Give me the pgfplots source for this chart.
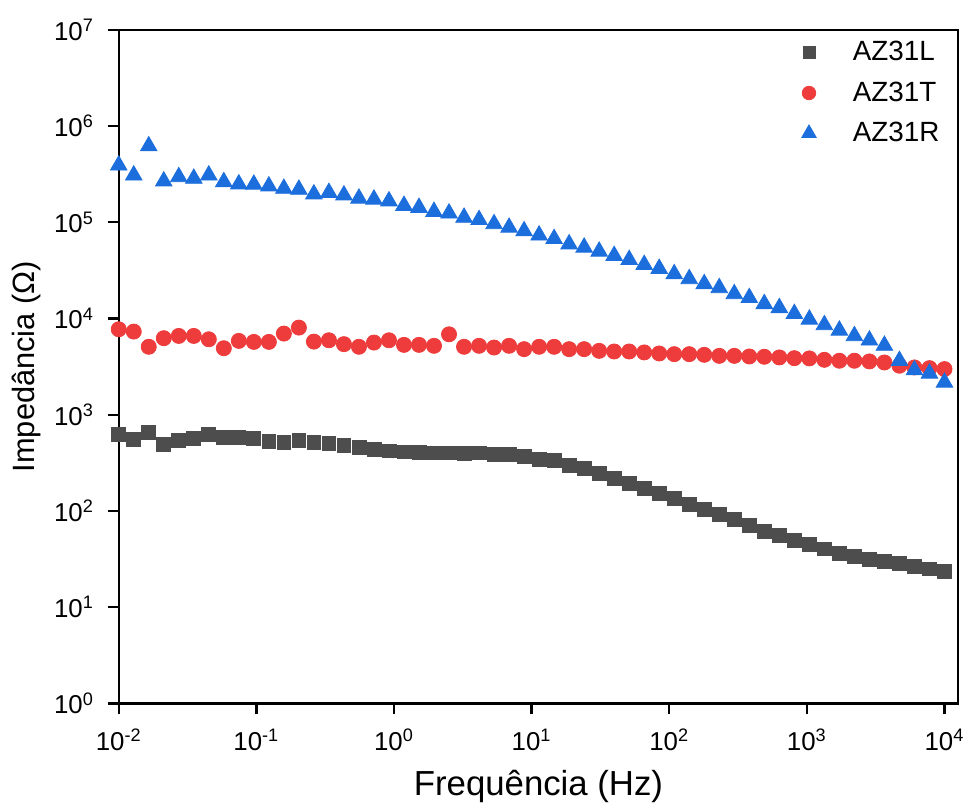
\documentclass[border=0pt]{standalone}
\usepackage{fontspec}
\setmainfont{Liberation Sans}
\usepackage{pgfplots}
\usepackage{pgfplotstable}
\pgfplotsset{compat=1.18}

\definecolor{cL}{RGB}{77,77,77}
\definecolor{cT}{RGB}{238,60,60}
\definecolor{cR}{RGB}{28,110,220}

% frequency (Hz), |Z| (Ohm) for the three samples
\pgfplotstableread{
f L T R
0.010000 619 7730 391000
0.012856 551 7310 308000
0.016527 661 5080 619000
0.021246 493 6240 267000
0.027313 542 6590 296000
0.035112 564 6590 285000
0.045139 625 6080 308000
0.058029 587 4910 263000
0.074600 577 5850 249000
0.095903 564 5710 247000
0.12329 533 5710 237000
0.15849 521 6970 224000
0.20375 542 8040 219000
0.26193 521 5750 196000
0.33673 500 5940 203000
0.43288 482 5410 191000
0.55650 455 5080 177000
0.71541 434 5620 173000
0.91969 421 5940 166000
1.1823 411 5320 149000
1.5199 404 5320 142000
1.9539 401 5200 129000
2.5119 401 6850 124000
3.2291 394 5080 112000
4.1512 401 5200 106000
5.3367 389 4990 96000
6.8606 383 5200 88300
8.8197 365 4800 81100
11.338 345 5080 73300
14.576 332 5080 67300
18.738 299 4800 59300
24.089 276 4800 54800
30.968 245 4610 49800
39.811 218 4540 44900
51.179 193 4540 40800
65.793 172 4440 36200
84.581 152 4330 33000
108.73 135 4260 29000
139.78 118 4260 25800
179.70 103 4190 22900
231.01 91.2 4090 20800
296.98 80.9 4090 18000
381.78 70.1 4030 16400
490.80 61.2 4000 14200
630.96 55.3 3940 12900
811.13 49.4 3870 11200
1042.8 44.7 3850 9790
1340.5 40.3 3720 8570
1723.3 36.6 3640 7530
2215.4 33.8 3640 6590
2848.0 31.3 3580 5940
3661.3 30.0 3490 5240
4706.8 28.4 3230 3640
6050.8 26.7 3100 2910
7778.6 25.0 3050 2690
10000 23.7 2980 2170
}\impdata

\begin{document}
\begin{tikzpicture}
\begin{axis}[
    scale only axis,
    width=422.5pt, height=339pt,
    xmode=log, ymode=log,
    xmin=0.01, xmax=12589,
    ymin=1, ymax=1e7,
    xtick={1e-2,1e-1,1,1e1,1e2,1e3,1e4},
    xticklabels={10\textsuperscript{-2},10\textsuperscript{-1},10\textsuperscript{0},10\textsuperscript{1},10\textsuperscript{2},10\textsuperscript{3},10\textsuperscript{4}},
    ytick={1,1e1,1e2,1e3,1e4,1e5,1e6,1e7},
    yticklabels={10\textsuperscript{0},10\textsuperscript{1},10\textsuperscript{2},10\textsuperscript{3},10\textsuperscript{4},10\textsuperscript{5},10\textsuperscript{6},10\textsuperscript{7}},
    xminorticks=false, yminorticks=false,
    tick align=outside,
    xtick pos=bottom, ytick pos=left,
    major tick length=5.5pt,
    axis line style={line width=1.2pt},
    every tick/.style={line width=1.2pt, black},
    tick label style={font=\fontsize{13}{15}\selectfont},
    xticklabel style={yshift=-4pt},
    yticklabel style={xshift=-3.5pt},
    xlabel style={font=\fontsize{17.5}{20}\selectfont, yshift=-3pt},
    ylabel style={font=\fontsize{15.5}{18}\selectfont},
    xlabel={Frequência (Hz)},
    ylabel={Impedância (Ω)},
    legend cell align=left,
    legend style={draw=none, fill=none, at={(0.99,0.995)}, anchor=north east,
        font=\fontsize{14}{16}\selectfont, row sep=5pt},
    legend image code/.code={\path (0cm,0cm) (0.95cm,0cm); \draw[#1] plot coordinates {(0.25cm,0cm)};},
]
\addplot[only marks, mark=square*, mark size=3.5pt, color=cL, fill=cL,
    legend image post style={mark size=3pt}] table[x=f, y=L] {\impdata};
\addlegendentry{AZ31L}
\addplot[only marks, mark=*, mark size=3.8pt, color=cT, fill=cT,
    legend image post style={mark size=3.4pt}] table[x=f, y=T] {\impdata};
\addlegendentry{AZ31T}
\addplot[only marks, mark=triangle*, mark size=4.8pt, color=cR, fill=cR,
    legend image post style={mark size=4.2pt}] table[x=f, y=R] {\impdata};
\addlegendentry{AZ31R}
\end{axis}
\path ([yshift=15pt]current axis.north east) ([xshift=2pt]current axis.east)
      ([xshift=-2.5pt]current axis.outer west);
\end{tikzpicture}
\end{document}
